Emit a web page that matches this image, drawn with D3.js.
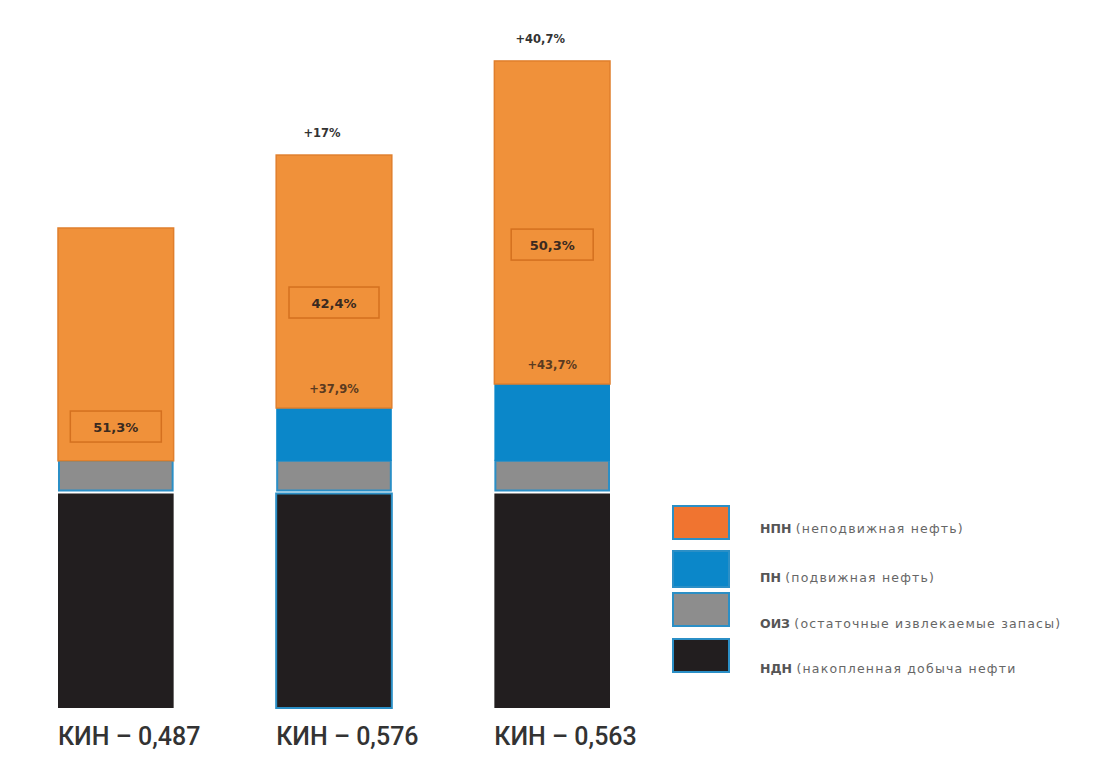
<!DOCTYPE html>
<html>
<head>
<meta charset="utf-8">
<script src="https://cdnjs.cloudflare.com/ajax/libs/d3/7.8.5/d3.min.js"></script>
<style>
  body { margin: 0; background: #fff; }
</style>
</head>
<body>
<div id="chart"></div>
<script>
// bars (relative reserves, first bar total = 100)
var bars = ["КИН – 0,487", "КИН – 0,576", "КИН – 0,563"];
var ndn = [45.0, 45.0, 45.0];   // накопленная добыча
var oiz = [6.5, 6.5, 6.5];      // остаточные извлекаемые запасы
var pn = [0, 11.0, 16.0];       // подвижная нефть
var npn = [48.5, 52.7, 67.3];   // неподвижная нефть
var boxLabels = ["51,3%", "42,4%", "50,3%"];
var topLabels = ["", "+17%", "+40,7%"];
var midLabels = ["", "+37,9%", "+43,7%"];
var legendNames = ["НПН", "ПН", "ОИЗ", "НДН"];
var legendDescr = ["(неподвижная нефть)", "(подвижная нефть)", "(остаточные  извлекаемые запасы)", "(накопленная добыча нефти"];

var width = 1099, height = 784;
var colors = { npn: "#f0913a", pn: "#0b87c9", oiz: "#8d8d8d", ndn: "#221e1f" };
var blueEdge = "#2b8fc6";

var svg = d3.select("#chart")
    .append("svg")
    .attr("width", width)
    .attr("height", height);

var x = d3.scaleBand()
    .domain(bars)
    .range([58, 610])
    .paddingInner(0.47);

var y = d3.scaleLinear()
    .domain([0, 100])
    .range([708, 228]);

var stack = bars.map(function (b, i) {
    var s0 = ndn[i], s1 = s0 + oiz[i], s2 = s1 + pn[i], s3 = s2 + npn[i];
    return { name: b, i: i, ndn: [0, s0], oiz: [s0, s1], pn: [s1, s2], npn: [s2, s3] };
});

var g = svg.selectAll("g.bar")
    .data(stack)
    .enter()
    .append("g")
    .attr("class", "bar");

// black
g.append("rect")
    .attr("x", d => x(d.name))
    .attr("width", x.bandwidth())
    .attr("y", d => y(d.ndn[1]) + 1.5)
    .attr("height", d => y(d.ndn[0]) - y(d.ndn[1]) - 1.5)
    .attr("fill", colors.ndn)
    .attr("stroke", d => d.i == 1 ? blueEdge : "none")
    .attr("stroke-width", 2);

// gray
g.append("rect")
    .attr("x", d => x(d.name) + 1)
    .attr("width", x.bandwidth() - 2)
    .attr("y", d => y(d.oiz[1]))
    .attr("height", d => y(d.oiz[0]) - y(d.oiz[1]) - 1.5)
    .attr("fill", colors.oiz)
    .attr("stroke", blueEdge)
    .attr("stroke-width", 2);

// blue
g.filter(d => d.pn[1] > d.pn[0]).append("rect")
    .attr("x", d => x(d.name))
    .attr("width", x.bandwidth())
    .attr("y", d => y(d.pn[1]))
    .attr("height", d => y(d.pn[0]) - y(d.pn[1]))
    .attr("fill", colors.pn);

// orange
g.append("rect")
    .attr("x", d => x(d.name))
    .attr("width", x.bandwidth())
    .attr("y", d => y(d.npn[1]))
    .attr("height", d => y(d.npn[0]) - y(d.npn[1]))
    .attr("fill", colors.npn)
    .attr("stroke", "#e07f2c")
    .attr("stroke-width", 1.5);

// boxed percentage labels
var boxPos = [0.145, 0.415, 0.43];   // fraction of orange height from bottom
var boxW = [91, 90, 82];
g.each(function (d) {
    var cx = x(d.name) + x.bandwidth() / 2;
    var cy = y(d.npn[0] + (d.npn[1] - d.npn[0]) * boxPos[d.i]);
    var sel = d3.select(this);
    sel.append("rect")
        .attr("x", cx - boxW[d.i] / 2)
        .attr("y", cy - 16)
        .attr("width", boxW[d.i])
        .attr("height", 31)
        .attr("fill", "none")
        .attr("stroke", "#d4701f")
        .attr("stroke-width", 1.5);
    sel.append("text")
        .attr("x", cx)
        .attr("y", cy + 5)
        .attr("text-anchor", "middle")
        .attr("font-family", "DejaVu Sans")
        .attr("font-weight", "bold")
        .attr("font-size", 13)
        .attr("fill", "#3a2a20")
        .text(boxLabels[d.i]);
    if (midLabels[d.i]) {
        sel.append("text")
            .attr("x", cx)
            .attr("y", y(d.npn[0]) - 15)
            .attr("text-anchor", "middle")
            .attr("font-family", "DejaVu Sans")
            .attr("font-weight", "bold")
            .attr("font-size", 11.5)
            .attr("fill", "#5a3a20")
            .text(midLabels[d.i]);
    }
    if (topLabels[d.i]) {
        sel.append("text")
            .attr("x", cx - 12)
            .attr("y", y(d.npn[1]) - 18)
            .attr("text-anchor", "middle")
            .attr("font-family", "DejaVu Sans")
            .attr("font-weight", "bold")
            .attr("font-size", 11.5)
            .attr("fill", "#333")
            .text(topLabels[d.i]);
    }
});

// category labels
svg.selectAll("text.cat")
    .data(bars)
    .enter()
    .append("text")
    .attr("class", "cat")
    .attr("x", d => x(d))
    .attr("y", 745)
    .attr("font-family", "Roboto")
    .attr("font-weight", 500)
    .attr("font-size", 25)
    .attr("fill", "#333")
    .text(d => d);

// legend
var legColors = [colors.npn, colors.pn, colors.oiz, colors.ndn];
var legY = [506, 551, 593, 639];
var leg = svg.selectAll("g.leg")
    .data(legendNames)
    .enter()
    .append("g")
    .attr("class", "leg");

leg.append("rect")
    .attr("x", 673)
    .attr("y", (d, i) => legY[i])
    .attr("width", 56)
    .attr("height", (d, i) => i == 1 ? 36 : 33)
    .attr("fill", (d, i) => i == 0 ? "#f07430" : legColors[i])
    .attr("stroke", blueEdge)
    .attr("stroke-width", 2);

var legText = leg.append("text")
    .attr("x", 760)
    .attr("y", (d, i) => [533, 582, 628, 673][i])
    .attr("font-family", "DejaVu Sans")
    .attr("font-size", 12.5)
    .attr("fill", "#666");

legText.append("tspan")
    .attr("font-weight", "bold")
    .attr("fill", "#555")
    .text(d => d + " ");

legText.append("tspan")
    .attr("letter-spacing", 1.2)
    .text((d, i) => legendDescr[i]);
</script>
</body>
</html>
